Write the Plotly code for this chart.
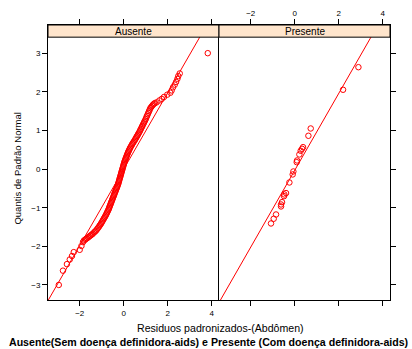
import plotly.graph_objects as go

# ---- data -----------------------------------------------------------------
# Standardised residuals (x) against standard-normal quantiles (y), by group
ausente_resid = [
    -2.95, -2.76, -2.58, -2.45, -2.35, -2.27, -2.00, -1.92, -1.85,
    -1.81, -1.76, -1.72, -1.67, -1.62, -1.58, -1.53, -1.49, -1.44, -1.40,
    -1.35, -1.31, -1.27, -1.23, -1.19, -1.15, -1.11, -1.08, -1.04, -1.01,
    -0.98, -0.95, -0.92, -0.89, -0.86, -0.83, -0.80, -0.78, -0.75, -0.73,
    -0.70, -0.68, -0.66, -0.64, -0.62, -0.60, -0.58, -0.56, -0.54, -0.52,
    -0.50, -0.48, -0.46, -0.44, -0.42, -0.40, -0.38, -0.36, -0.34, -0.32,
    -0.30, -0.28, -0.26, -0.245, -0.23, -0.215, -0.20, -0.185, -0.17, -0.155,
    -0.14, -0.125, -0.11, -0.095, -0.08, -0.065, -0.05, -0.035, -0.02, -0.005,
    0.01, 0.025, 0.04, 0.06, 0.08, 0.10, 0.12, 0.14, 0.16, 0.18,
    0.20, 0.225, 0.25, 0.275, 0.30, 0.33, 0.36, 0.39, 0.42, 0.455,
    0.49, 0.52, 0.55, 0.58, 0.61, 0.64, 0.67, 0.70, 0.73, 0.76,
    0.79, 0.82, 0.85, 0.88, 0.91, 0.94, 0.97, 1.00, 1.03, 1.06,
    1.09, 1.12, 1.15, 1.18, 1.21, 1.25, 1.29, 1.33, 1.37, 1.41,
    1.49, 1.62, 1.73, 1.83, 1.98, 2.12, 2.18, 2.24, 2.32, 2.38,
    2.44, 2.48, 2.545, 3.82,
]
ausente_quant = [
    -3.00, -2.63, -2.46, -2.34, -2.25, -2.15, -2.09, -1.99, -1.89,
    -1.85, -1.83, -1.81, -1.79, -1.77, -1.75, -1.73, -1.71, -1.69, -1.67,
    -1.64, -1.62, -1.60, -1.57, -1.54, -1.51, -1.48, -1.45, -1.42, -1.39,
    -1.36, -1.33, -1.30, -1.27, -1.24, -1.21, -1.18, -1.15, -1.12, -1.09,
    -1.06, -1.03, -1.00, -0.97, -0.94, -0.91, -0.88, -0.85, -0.82, -0.79,
    -0.76, -0.73, -0.70, -0.67, -0.64, -0.61, -0.58, -0.55, -0.52, -0.49,
    -0.46, -0.43, -0.40, -0.37, -0.34, -0.31, -0.28, -0.25, -0.22, -0.19,
    -0.16, -0.13, -0.10, -0.07, -0.04, -0.01, 0.02, 0.05, 0.08, 0.11,
    0.14, 0.17, 0.20, 0.23, 0.26, 0.29, 0.32, 0.35, 0.38, 0.41,
    0.44, 0.47, 0.50, 0.53, 0.56, 0.59, 0.62, 0.65, 0.68, 0.71,
    0.74, 0.77, 0.80, 0.83, 0.86, 0.89, 0.92, 0.95, 0.98, 1.02,
    1.05, 1.09, 1.12, 1.16, 1.19, 1.23, 1.26, 1.30, 1.34, 1.38,
    1.42, 1.46, 1.50, 1.54, 1.58, 1.61, 1.64, 1.67, 1.69, 1.71,
    1.73, 1.78, 1.82, 1.87, 1.93, 1.98, 2.04, 2.12, 2.19, 2.26,
    2.34, 2.41, 2.48, 3.005,
]

presente_resid = [
    -1.077, -0.955, -0.848, -0.621, -0.621, -0.576, -0.485, -0.47, -0.394,
    -0.242, -0.091, -0.061, 0.091, 0.106, 0.212, 0.273, 0.333, 0.379,
    0.622, 0.727, 2.197, 2.895,
]
presente_quant = [
    -1.407, -1.285, -1.174, -0.966, -0.915, -0.855, -0.70, -0.655, -0.62,
    -0.345, -0.137, -0.06, 0.181, 0.225, 0.381, 0.476, 0.528, 0.570,
    0.865, 1.054, 2.057, 2.642,
]

# reference lines (intercept, slope) per panel
ausente_line = (0.0, 0.99)
presente_line = (-0.03, 0.996)

panels = ["Ausente", "Presente"]
x_ticks = [-2, 0, 2, 4]
y_ticks = [-3, -2, -1, 0, 1, 2, 3]

# ---- geometry ---------------------------------------------------------------
W, H = 412, 349
X_RANGE = [-3.44, 4.33]
Y_RANGE = [-3.39, 3.735]      # top part of the range hosts the strip
STRIP_BOTTOM_Y = 3.42

dom1 = [48 / W, 219 / W]
dom2 = [219 / W, 390 / W]
ydom = [1 - 300 / H, 1 - 25 / H]
strip_y0 = ydom[0] + (STRIP_BOTTOM_Y - Y_RANGE[0]) / (Y_RANGE[1] - Y_RANGE[0]) * (ydom[1] - ydom[0])
strip_y1 = ydom[1]

RED = "#FF0000"
FONT = "Liberation Sans, Arial, sans-serif"

fig = go.Figure()

for resid, quant, (a, b), xa, ya in [
    (ausente_resid, ausente_quant, ausente_line, "x", "y"),
    (presente_resid, presente_quant, presente_line, "x2", "y2"),
]:
    fig.add_trace(go.Scatter(
        x=[X_RANGE[0], X_RANGE[1]],
        y=[a + b * X_RANGE[0], a + b * X_RANGE[1]],
        mode="lines", line=dict(color=RED, width=1),
        xaxis=xa, yaxis=ya, showlegend=False, hoverinfo="skip",
    ))
    fig.add_trace(go.Scatter(
        x=resid, y=quant, mode="markers",
        marker=dict(symbol="circle-open", size=5.5, color=RED,
                    line=dict(color=RED, width=1)),
        xaxis=xa, yaxis=ya, showlegend=False,
    ))

axis_common = dict(
    showgrid=False, zeroline=False, showline=True, linecolor="black",
    linewidth=1, ticks="outside", ticklen=5, tickwidth=1, tickcolor="black",
    tickfont=dict(family=FONT, size=8, color="black"),
)

fig.update_layout(
    width=W, height=H,
    margin=dict(l=0, r=0, t=0, b=0),
    paper_bgcolor="white", plot_bgcolor="white",
    xaxis=dict(domain=dom1, range=X_RANGE, anchor="y", side="bottom",
               tickvals=x_ticks, mirror="ticks", **axis_common),
    yaxis=dict(domain=ydom, range=Y_RANGE, anchor="x", side="left",
               tickvals=y_ticks, mirror=False, **axis_common),
    xaxis2=dict(domain=dom2, range=X_RANGE, anchor="y2", side="top",
                tickvals=x_ticks, mirror="ticks", **axis_common),
    yaxis2=dict(domain=ydom, range=Y_RANGE, anchor="x2", side="right",
                tickvals=y_ticks, showticklabels=False, mirror=True,
                **axis_common),
)

# strips with panel names
for name, dom in zip(panels, [dom1, dom2]):
    fig.add_shape(type="rect", xref="paper", yref="paper",
                  x0=dom[0], x1=dom[1], y0=strip_y0, y1=strip_y1,
                  fillcolor="#FFE5CC", line=dict(color="black", width=1),
                  layer="above")
    fig.add_annotation(x=(dom[0] + dom[1]) / 2, y=(strip_y0 + strip_y1) / 2,
                       xref="paper", yref="paper", text=name, showarrow=False,
                       font=dict(family=FONT, size=10, color="black"),
                       xanchor="center", yanchor="middle")

# axis titles and caption
fig.add_annotation(x=18 / W, y=(ydom[0] + strip_y0) / 2, xref="paper", yref="paper",
                   text="Quantis de Padrão Normal", textangle=-90, showarrow=False,
                   font=dict(family=FONT, size=9.5, color="black"),
                   xanchor="center", yanchor="middle")
fig.add_annotation(x=220 / W, y=1 - 328 / H, xref="paper", yref="paper",
                   text="Residuos padronizados-(Abdômen)", showarrow=False,
                   font=dict(family=FONT, size=10.6, color="black"),
                   xanchor="center", yanchor="middle")
fig.add_annotation(x=208 / W, y=1 - 342 / H, xref="paper", yref="paper",
                   text="<b>Ausente(Sem doença definidora-aids) e Presente (Com doença definidora-aids)</b>",
                   showarrow=False,
                   font=dict(family=FONT, size=10.6, color="black"),
                   xanchor="center", yanchor="middle")

fig.write_html("out.html")
